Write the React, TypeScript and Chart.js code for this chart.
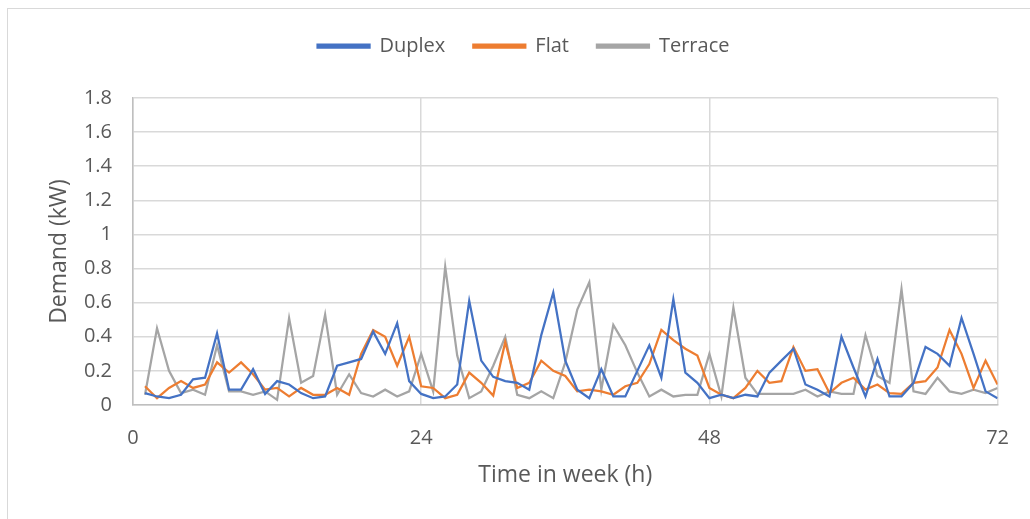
import React, { useEffect, useRef } from "react";
import { Chart, registerables } from "chart.js";

Chart.register(...registerables);

const hours = [
  1, 2, 3, 4, 5, 6, 7, 8, 9, 10, 11, 12, 13, 14, 15, 16, 17, 18, 19, 20, 21, 22, 23, 24,
  25, 26, 27, 28, 29, 30, 31, 32, 33, 34, 35, 36, 37, 38, 39, 40, 41, 42, 43, 44, 45, 46, 47, 48,
  49, 50, 51, 52, 53, 54, 55, 56, 57, 58, 59, 60, 61, 62, 63, 64, 65, 66, 67, 68, 69, 70, 71, 72,
];

const duplex = [
  0.07, 0.05, 0.04, 0.06, 0.15, 0.16, 0.42, 0.09, 0.09, 0.21, 0.065, 0.14,
  0.12, 0.07, 0.04, 0.05, 0.23, 0.25, 0.27, 0.43, 0.3, 0.48, 0.14, 0.065,
  0.04, 0.05, 0.12, 0.61, 0.26, 0.165, 0.14, 0.13, 0.09, 0.41, 0.66, 0.26,
  0.09, 0.04, 0.21, 0.05, 0.05, 0.2, 0.35, 0.16, 0.62, 0.19, 0.13, 0.04,
  0.06, 0.04, 0.06, 0.05, 0.19, 0.26, 0.33, 0.12, 0.09, 0.05, 0.4, 0.22,
  0.05, 0.27, 0.05, 0.05, 0.13, 0.34, 0.3, 0.23, 0.51, 0.3, 0.08, 0.04,
];

const flat = [
  0.11, 0.04, 0.1, 0.14, 0.1, 0.12, 0.25, 0.19, 0.25, 0.18, 0.09, 0.1,
  0.05, 0.1, 0.06, 0.06, 0.1, 0.06, 0.3, 0.44, 0.4, 0.23, 0.4, 0.11,
  0.1, 0.04, 0.06, 0.19, 0.13, 0.055, 0.37, 0.1, 0.13, 0.26, 0.2, 0.17,
  0.08, 0.09, 0.08, 0.06, 0.11, 0.13, 0.24, 0.44, 0.38, 0.33, 0.29, 0.1,
  0.06, 0.04, 0.1, 0.2, 0.13, 0.14, 0.34, 0.2, 0.21, 0.07, 0.13, 0.16,
  0.09, 0.12, 0.07, 0.065, 0.13, 0.14, 0.22, 0.44, 0.3, 0.1, 0.26, 0.12,
];

const terrace = [
  0.06, 0.45, 0.2, 0.07, 0.09, 0.06, 0.35, 0.08, 0.08, 0.06, 0.08, 0.03,
  0.51, 0.13, 0.17, 0.53, 0.06, 0.18, 0.07, 0.05, 0.09, 0.05, 0.08, 0.3,
  0.08, 0.81, 0.29, 0.04, 0.08, 0.23, 0.4, 0.06, 0.04, 0.08, 0.04, 0.25,
  0.56, 0.72, 0.09, 0.47, 0.35, 0.19, 0.05, 0.09, 0.05, 0.06, 0.06, 0.3,
  0.05, 0.57, 0.16, 0.065, 0.065, 0.065, 0.065, 0.09, 0.05, 0.08, 0.065, 0.065,
  0.41, 0.17, 0.13, 0.68, 0.08, 0.065, 0.16, 0.08, 0.065, 0.09, 0.07, 0.1,
];

const seriesNames = ["Duplex", "Flat", "Terrace"];
const seriesColors = ["#4472C4", "#ED7D31", "#A5A5A5"];
const xTicks = [0, 24, 48, 72];
const yTicks = [0, 0.2, 0.4, 0.6, 0.8, 1, 1.2, 1.4, 1.6, 1.8];

const FONT = "'Open Sans', 'Noto Sans', sans-serif";
const TEXT = "#595959";
const GRID = "#d9d9d9";

export default function App() {
  const ref = useRef<HTMLCanvasElement>(null);

  useEffect(() => {
    const values = [duplex, flat, terrace];
    const chart = new Chart(ref.current as HTMLCanvasElement, {
      type: "line",
      data: {
        labels: hours,
        datasets: seriesNames.map((name, i) => ({
          label: name,
          data: values[i],
          borderColor: seriesColors[i],
          backgroundColor: seriesColors[i],
          borderWidth: 2.25,
          pointRadius: 0,
          tension: 0,
          fill: false,
        })),
      },
      options: {
        animation: false,
        responsive: false,
        maintainAspectRatio: false,
        layout: { padding: { top: 8, right: 29, bottom: 0, left: 46 } },
        plugins: {
          tooltip: { enabled: false },
          legend: {
            position: "top",
            labels: {
              boxWidth: 52,
              boxHeight: 3,
              padding: 28,
              color: TEXT,
              font: { family: FONT, size: 20 },
            },
          },
          subtitle: {
            display: true,
            text: "",
            weight: 500,
            font: { size: 10 },
            padding: { top: 10, bottom: 10 },
          } as any,
        },
        scales: {
          x: {
            type: "linear",
            min: 0,
            max: 72,
            afterBuildTicks: (s: any) => {
              s.ticks = xTicks.map((v) => ({ value: v }));
            },
            afterFit: (s: any) => {
              s.height = 114;
            },
            grid: { color: GRID, lineWidth: 1.5, drawTicks: false },
            border: { color: "#bfbfbf", width: 1.5 },
            ticks: { padding: 21, color: TEXT, font: { family: FONT, size: 20 }, maxRotation: 0 },
            title: {
              display: true,
              text: "Time in week (h)",
              color: TEXT,
              font: { family: FONT, size: 23 },
              padding: { top: 0, bottom: 30 },
            },
          },
          y: {
            type: "linear",
            min: 0,
            max: 1.8,
            afterBuildTicks: (s: any) => {
              s.ticks = yTicks.map((v) => ({ value: v }));
            },
            afterFit: (s: any) => {
              s.width = 87;
            },
            grid: { color: GRID, lineWidth: 1.5, drawTicks: false },
            border: { color: "#bfbfbf", width: 1.5 },
            ticks: {
              padding: 21,
              color: TEXT,
              font: { family: FONT, size: 20 },
              callback: (v: any) => String(Math.round(Number(v) * 10) / 10),
            },
            title: {
              display: true,
              text: "Demand (kW)",
              color: TEXT,
              font: { family: FONT, size: 23 },
              padding: { top: 0, bottom: 0 },
            },
          },
        },
      },
    });
    return () => chart.destroy();
  }, []);

  return (
    <div
      style={{
        position: "fixed",
        left: 0,
        top: 0,
        width: 1030,
        height: 519,
        overflow: "hidden",
        background: "#ffffff",
      }}
    >
      <div
        style={{
          position: "absolute",
          left: 7,
          top: 8,
          width: 1060,
          height: 560,
          border: "1px solid #d9d9d9",
        }}
      />
      <canvas
        ref={ref}
        width={1030}
        height={519}
        style={{ position: "absolute", left: 0, top: 0, width: 1030, height: 519 }}
      />
    </div>
  );
}
